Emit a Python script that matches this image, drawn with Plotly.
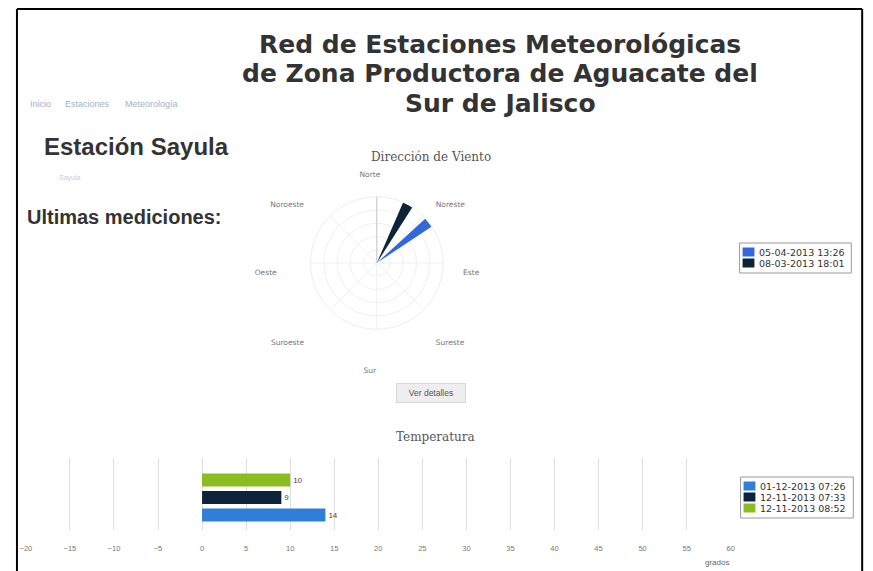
import plotly.graph_objects as go

W, H = 873, 571
OFF = 8  # page body margin

# ---- data ----
page_title = ["Red de Estaciones Meteorológicas",
              "de Zona Productora de Aguacate del",
              "Sur de Jalisco"]
breadcrumb = ["Inicio", "Estaciones", "Meteorología"]
station = "Estación Sayula"
station_sub = "Sayula"
subtitle = "Ultimas mediciones:"

wind_title = "Dirección de Viento"
wind_dirs_deg = [0, 45, 90, 135, 180, 225, 270, 315]
wind_dirs_lbl = ["Norte", "Noreste", "Este", "Sureste", "Sur", "Suroeste", "Oeste", "Noroeste"]
wind_series = ["05-04-2013 13:26", "08-03-2013 18:01"]
wind_angle = [52, 28]
wind_speed = [9.9, 10]
wind_colors = ["#3468d8", "#0d233a"]

temp_title = "Temperatura"
temp_series = ["01-12-2013 07:26", "12-11-2013 07:33", "12-11-2013 08:52"]
temp_values = [14, 9, 10]
temp_colors = ["#2f7ed8", "#0d233a", "#8bbc21"]
temp_unit = "grados"
button_text = "Ver detalles"


def fx(x):
    return (x - OFF) / W


def fy(y):
    return 1 - (y - OFF) / H


fig = go.Figure()

# ---- wind rose ----
for name, ang, spd, col in zip(wind_series, wind_angle, wind_speed, wind_colors):
    fig.add_trace(go.Barpolar(
        r=[spd], theta=[ang], width=[9], name=name,
        marker=dict(color=col, line=dict(width=0)),
        showlegend=False, subplot="polar"))
# label ring of the wind rose (direction names only)
fig.add_trace(go.Scatterpolar(r=[], theta=[], subplot="polar2", showlegend=False,
                              hoverinfo="skip"))

# ---- temperature bars ----
for name, val, col in zip(temp_series, temp_values, temp_colors):
    fig.add_trace(go.Bar(
        x=[val], y=["t"], orientation="h", name=name,
        marker=dict(color=col, line=dict(width=0)),
        text=[str(val)], textposition="outside",
        textfont=dict(size=8, color="#444"), cliponaxis=False,
        showlegend=False, xaxis="x", yaxis="y"))

fig.update_layout(
    width=W, height=H,
    margin=dict(l=0, r=0, t=0, b=0),
    paper_bgcolor="white", plot_bgcolor="white",
    font=dict(family="Liberation Sans, Arial, sans-serif", color="#333"),
    barmode="group", bargap=0.27, bargroupgap=0.257,
    showlegend=False,
    polar=dict(
        domain=dict(x=[fx(308), fx(442)], y=[fy(330), fy(196)]),
        bgcolor="white",
        angularaxis=dict(
            rotation=90, direction="clockwise",
            tickmode="array", tickvals=wind_dirs_deg, ticktext=wind_dirs_lbl,
            showticklabels=False, ticks="",
            showline=True, linecolor="#eeeeee", linewidth=1,
            gridcolor="#f0f0f0"),
        radialaxis=dict(
            range=[0, 10], angle=90, showticklabels=False, ticks="",
            showline=True, linecolor="#c8c8c8", linewidth=1,
            gridcolor="#f0f0f0")),
    polar2=dict(
        domain=dict(x=[fx(296), fx(440)], y=[fy(344), fy(200)]),
        bgcolor="rgba(0,0,0,0)",
        angularaxis=dict(
            rotation=90, direction="clockwise",
            tickmode="array", tickvals=wind_dirs_deg, ticktext=wind_dirs_lbl,
            tickfont=dict(size=7.5, color="#777", family="DejaVu Sans, sans-serif"),
            ticks="outside", ticklen=20, tickcolor="rgba(0,0,0,0)",
            showline=False, showgrid=False),
        radialaxis=dict(visible=False, range=[0, 10], showgrid=False)),
    xaxis=dict(
        domain=[fx(20), fx(733)], range=[-20, 60], dtick=5,
        showgrid=True, gridcolor="#dedede", zeroline=False,
        showline=False, ticks="outside", ticklen=11, tickcolor="rgba(0,0,0,0)",
        tickfont=dict(size=7.5, color="#777"), fixedrange=True),
    yaxis=dict(
        domain=[fy(530), fy(458)], range=[-0.451, 0.549],
        showticklabels=False, showgrid=False, zeroline=False, showline=False),
)

ann = []
for line, yy in zip(page_title, [44.5, 74, 103.5]):
    ann.append(dict(text="<b>" + line + "</b>", x=fx(500), y=fy(yy),
                    xanchor="center", yanchor="middle",
                    font=dict(size=25, color="#333333",
                              family="DejaVu Sans, sans-serif")))
for word, xx in zip(breadcrumb, [22, 58, 118]):
    ann.append(dict(text=word, x=fx(xx), y=fy(104), xanchor="left", yanchor="middle",
                    font=dict(size=9, color="#9db4cc")))
ann += [
    dict(text="<b>" + station + "</b>", x=fx(36), y=fy(146), xanchor="left",
         yanchor="middle", font=dict(size=24, color="#333")),
    dict(text=station_sub, x=fx(52), y=fy(178), xanchor="left", yanchor="middle",
         font=dict(size=7, color="#cccccc")),
    dict(text="<b>" + subtitle + "</b>", x=fx(19), y=fy(217), xanchor="left",
         yanchor="middle", font=dict(size=20, color="#333")),
    dict(text=wind_title, x=fx(430), y=fy(157), xanchor="center", yanchor="middle",
         font=dict(size=12, color="#555", family="DejaVu Serif, serif")),
    dict(text=temp_title, x=fx(434), y=fy(437), xanchor="center", yanchor="middle",
         font=dict(size=12, color="#555", family="DejaVu Serif, serif")),
    dict(text=button_text, x=fx(430), y=fy(393), xanchor="center", yanchor="middle",
         font=dict(size=8.5, color="#555"), bgcolor="#eeeeee", bordercolor="#d8d8d8",
         borderwidth=1, borderpad=3, width=62, height=12),
    dict(text=temp_unit, x=fx(733), y=fy(562), xanchor="right", yanchor="middle",
         font=dict(size=8, color="#666")),
]

shapes = []


def add_legend(names, colors, x0, x1, y0, rows):
    shapes.append(dict(type="rect", xref="paper", yref="paper",
                       x0=fx(x0), x1=fx(x1), y0=fy(y0 + 11 * rows + 8), y1=fy(y0),
                       line=dict(color="#999999", width=1), fillcolor="white"))
    for i, (n, c) in enumerate(zip(names, colors)):
        yc = y0 + 9 + 11 * i
        shapes.append(dict(type="rect", xref="paper", yref="paper",
                           x0=fx(x0 + 3), x1=fx(x0 + 15), y0=fy(yc + 4.5), y1=fy(yc - 4.5),
                           line=dict(width=0), fillcolor=c))
        ann.append(dict(text=n, x=fx(x0 + 18), y=fy(yc), xanchor="left", yanchor="middle",
                        font=dict(size=9.5, color="#333", family="DejaVu Sans, sans-serif")))


add_legend(wind_series, wind_colors, 742, 855, 243, 2)
add_legend(temp_series, temp_colors, 743, 857, 477, 3)

for a in ann:
    a.setdefault("xref", "paper")
    a.setdefault("yref", "paper")
    a.setdefault("showarrow", False)

# page frame
shapes += [
    dict(type="line", xref="paper", yref="paper", x0=fx(11), x1=fx(866), y0=fy(9), y1=fy(9),
         line=dict(color="black", width=2)),
    dict(type="line", xref="paper", yref="paper", x0=fx(11), x1=fx(11), y0=fy(9), y1=0,
         line=dict(color="black", width=2)),
    dict(type="line", xref="paper", yref="paper", x0=fx(866), x1=fx(866), y0=fy(9), y1=0,
         line=dict(color="black", width=2)),
]
fig.update_layout(annotations=ann, shapes=shapes)

fig.write_html("out.html")
